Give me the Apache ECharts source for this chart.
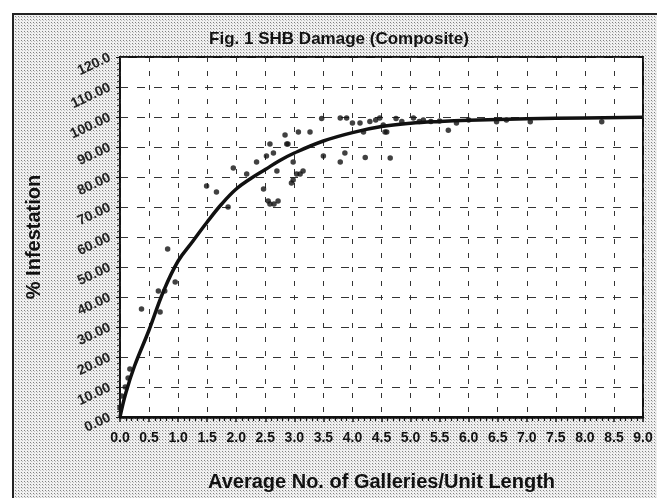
<!DOCTYPE html>
<html>
<head>
<meta charset="utf-8">
<script src="https://cdn.jsdelivr.net/npm/echarts@6/dist/echarts.min.js"></script>
<style>
  html, body { margin: 0; padding: 0; background: #fff; }
  #frame {
    position: absolute; left: 12px; top: 13px; width: 645px; height: 485px;
    border-left: 2px solid #222; border-top: 2px solid #222;
    box-sizing: border-box;
    background-color: #e4e4e4;
  }
  #chart { position: absolute; left: 0; top: 0; width: 657px; height: 498px; }
</style>
</head>
<body>
<div id="frame"></div>
<div id="chart"></div>
<script>
// fitted curve
var curveX = [0.0, 0.1, 0.25, 0.5, 0.75, 1.0, 1.25, 1.5, 1.75, 2.0, 2.25, 2.5, 2.75, 3.0, 3.5, 4.0, 4.5, 5.0, 5.5, 6.0, 7.0, 8.0, 9.0];
var curveY = [0, 8, 17, 29, 42, 52, 58.5, 65, 71, 76, 79.5, 82.5, 85.5, 88, 92, 94.8, 96.8, 97.9, 98.5, 98.9, 99.4, 99.7, 99.9];

// observed points
var pointX = [0.0, 0.03, 0.09, 0.14, 0.17, 0.37, 0.66, 0.69, 0.77, 0.82, 0.95,
  1.49, 1.66, 1.86, 1.95, 2.18, 2.35, 2.47, 2.52, 2.55, 2.58, 2.58, 2.64, 2.65,
  2.70, 2.72, 2.84, 2.87, 2.89, 2.95, 2.98, 2.98, 3.04, 3.07, 3.10, 3.15, 3.27,
  3.47, 3.50, 3.79, 3.79, 3.87, 3.90, 4.00, 4.13, 4.19, 4.22, 4.30, 4.40, 4.47,
  4.53, 4.56, 4.59, 4.65, 4.75, 4.85, 5.05, 5.15, 5.22, 5.35, 5.50, 5.65, 5.79,
  6.00, 6.48, 6.65, 7.06, 8.29];
var pointY = [3, 7, 10, 13, 16, 36, 42, 35, 42, 56, 45,
  77, 75, 70, 83, 81, 85, 76, 87, 72, 91, 71, 88, 71,
  82, 72, 94, 91, 91, 78, 85, 79, 81, 95, 81, 82, 95,
  99.5, 87, 99.7, 85, 88, 99.7, 98, 98, 95, 86.5, 98.5, 99, 99.7,
  97.3, 95, 95, 86.3, 99.5, 98.5, 99.7, 98.5, 99, 98.5, 98.7, 95.6, 98,
  99, 98.4, 99, 98.4, 98.4];

var xTicks = ['0.0','0.5','1.0','1.5','2.0','2.5','3.0','3.5','4.0','4.5','5.0','5.5','6.0','6.5','7.0','7.5','8.0','8.5','9.0'];
var yTicks = ['0.00','10.00','20.00','30.00','40.00','50.00','60.00','70.00','80.00','90.00','100.00','110.00','120.0'];

var scatterData = pointX.map(function (x, i) { return [x, pointY[i]]; });
var curveData = curveX.map(function (x, i) { return [x, curveY[i]]; });

// halftone dots for the surround
(function () {
  var c = document.createElement('canvas');
  c.width = 3; c.height = 3;
  var g = c.getContext('2d');
  g.fillStyle = '#f0f0f0'; g.fillRect(0, 0, 3, 3);
  g.fillStyle = '#808080'; g.fillRect(1, 1, 1, 1);
  g.fillStyle = '#c0c0c0'; g.fillRect(2, 2, 1, 1);
  document.getElementById('frame').style.backgroundImage = 'url(' + c.toDataURL() + ')';
})();

var chart = echarts.init(document.getElementById('chart'));
var font = 'Liberation Sans, Arial, sans-serif';

var option = {
  backgroundColor: 'transparent',
  animation: false,
  title: {
    text: 'Fig. 1 SHB Damage (Composite)',
    left: 334, top: 26, textAlign: 'center',
    textStyle: { fontFamily: font, fontWeight: 'bold', fontSize: 17, color: '#111' }
  },
  grid: {
    left: 120, top: 57, right: 14, bottom: 81,
    show: true, backgroundColor: '#fff', borderColor: '#111', borderWidth: 2
  },
  xAxis: {
    type: 'value', min: 0, max: 9, interval: 0.5,
    name: 'Average No. of Galleries/Unit Length',
    nameLocation: 'middle', nameGap: 55,
    nameTextStyle: { fontFamily: font, fontWeight: 'bold', fontSize: 20, color: '#111' },
    axisLine: { lineStyle: { color: '#111', width: 2.5 } },
    axisTick: { show: true, inside: false, length: 5, lineStyle: { color: '#111', width: 1.5 } },
    minorTick: { show: true, splitNumber: 5, length: 4, lineStyle: { color: '#111', width: 1.2 } },
    axisLabel: {
      margin: 14, fontFamily: font, fontWeight: 'bold', fontSize: 14, color: '#111',
      formatter: function (v) { return xTicks[Math.round(v * 2)]; }
    },
    splitLine: { show: true, lineStyle: { color: '#333', width: 1, type: [5, 9] } }
  },
  yAxis: {
    type: 'value', min: 0, max: 120, interval: 10,
    name: '% Infestation',
    nameLocation: 'middle', nameGap: 76, nameRotate: 90,
    nameTextStyle: { fontFamily: font, fontWeight: 'bold', fontSize: 20, color: '#111' },
    axisLine: { show: true, lineStyle: { color: '#111', width: 1.5, type: 'dotted' } },
    axisTick: { show: true, length: 4, lineStyle: { color: '#111', width: 1 } },
    minorTick: { show: true, splitNumber: 5, length: 3, lineStyle: { color: '#333', width: 1 } },
    axisLabel: {
      margin: 10, rotate: 25, fontFamily: font, fontWeight: 'bold', fontSize: 14, color: '#222',
      formatter: function (v) { return yTicks[Math.round(v / 10)]; }
    },
    splitLine: { show: true, lineStyle: { color: '#333', width: 1, type: [8, 9] } }
  },
  series: [
    {
      name: 'points', type: 'scatter', data: scatterData,
      symbol: 'circle', symbolSize: 5.5,
      itemStyle: { color: '#111' }
    },
    {
      name: 'fit', type: 'line', data: curveData,
      smooth: 0.4, showSymbol: false,
      lineStyle: { color: '#111', width: 3.5 }
    }
  ]
};
chart.setOption(option);
</script>
</body>
</html>
